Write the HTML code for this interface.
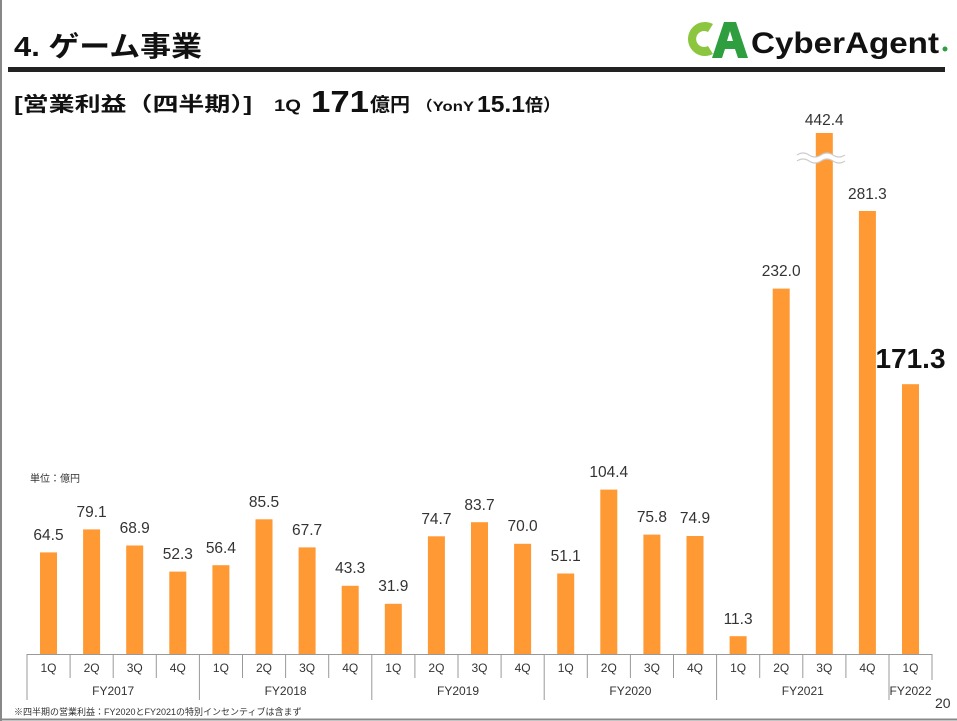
<!DOCTYPE html>
<html><head><meta charset="utf-8"><style>
body{margin:0;background:#fff;}
svg{display:block;font-family:"Liberation Sans","Noto Sans CJK JP",sans-serif;}
</style></head><body>
<svg width="957" height="721" viewBox="0 0 957 721" xmlns="http://www.w3.org/2000/svg">
<rect x="0" y="0" width="957" height="721" fill="#fff"/>
<line x1="1" y1="0" x2="1" y2="721" stroke="#888" stroke-width="2"/>
<line x1="0" y1="719.5" x2="957" y2="719.5" stroke="#888" stroke-width="2"/>
<text x="14" y="56" font-size="28" font-weight="bold" fill="#111" textLength="188" lengthAdjust="spacingAndGlyphs">4. ゲーム事業</text>
<rect x="8" y="67" width="937" height="5" fill="#222"/>
<g>
<path d="M713 24 A17 17 0 1 0 713 54 L708 46 A8 8 0 1 1 708 32 Z" fill="#8cc63f"/>
<path d="M712 58 L724 22 H736 L748 58 H738 L735 49 H725 L722 58 Z M727 41 H733 L730 31 Z" fill="#2e9e3e"/>
<text x="751" y="53" font-size="30" font-weight="bold" fill="#111" textLength="188" lengthAdjust="spacingAndGlyphs">CyberAgent</text>
<circle cx="945" cy="49" r="2.5" fill="#2e9e3e"/>
</g>
<text x="14" y="111" font-size="20" font-weight="bold" fill="#111" textLength="238" lengthAdjust="spacingAndGlyphs">[営業利益（四半期）]</text>
<text x="274" y="111" font-size="17" font-weight="bold" fill="#111" textLength="27" lengthAdjust="spacingAndGlyphs">1Q</text>
<text x="311" y="112" font-size="31" font-weight="bold" fill="#111" textLength="58" lengthAdjust="spacingAndGlyphs">171</text>
<text x="370" y="111" font-size="19" font-weight="bold" fill="#111" textLength="40" lengthAdjust="spacingAndGlyphs">億円</text>
<text x="416" y="111" font-size="14" font-weight="bold" fill="#111" textLength="58" lengthAdjust="spacingAndGlyphs">（YonY</text>
<text x="477" y="112" font-size="23" font-weight="bold" fill="#111" textLength="48" lengthAdjust="spacingAndGlyphs">15.1</text>
<text x="525" y="111" font-size="17" font-weight="bold" fill="#111" textLength="36" lengthAdjust="spacingAndGlyphs">倍）</text>
<text x="30" y="482" font-size="10" fill="#333">単位：億円</text>
<g fill="#FF9933">
<rect x="40" y="552.4" width="17" height="101.6"/>
<rect x="83.1" y="529.4" width="17" height="124.6"/>
<rect x="126.2" y="545.5" width="17" height="108.5"/>
<rect x="169.3" y="571.6" width="17" height="82.4"/>
<rect x="212.4" y="565.2" width="17" height="88.8"/>
<rect x="255.5" y="519.3" width="17" height="134.7"/>
<rect x="298.6" y="547.4" width="17" height="106.6"/>
<rect x="341.7" y="585.8" width="17" height="68.2"/>
<rect x="384.8" y="603.8" width="17" height="50.2"/>
<rect x="427.9" y="536.3" width="17" height="117.7"/>
<rect x="471" y="522.2" width="17" height="131.8"/>
<rect x="514.1" y="543.8" width="17" height="110.2"/>
<rect x="557.2" y="573.5" width="17" height="80.5"/>
<rect x="600.3" y="489.6" width="17" height="164.4"/>
<rect x="643.4" y="534.6" width="17" height="119.4"/>
<rect x="686.5" y="536" width="17" height="118"/>
<rect x="729.6" y="636.2" width="17" height="17.8"/>
<rect x="772.7" y="288.6" width="17" height="365.4"/>
<rect x="815.8" y="133" width="17" height="521"/>
<rect x="858.9" y="211" width="17" height="443"/>
<rect x="902" y="384.2" width="17" height="269.8"/>
</g>
<path d="M797 158 q6 -4 12 0 t12 0 t12 0 t12 0" fill="none" stroke="#fff" stroke-width="5"/>
<path d="M797 155 q6 -4 12 0 t12 0 t12 0 t12 0 M797 161 q6 -4 12 0 t12 0 t12 0 t12 0" fill="none" stroke="#ccc" stroke-width="1.2"/>
<g font-size="15.5" fill="#333" text-anchor="middle">
<text x="48.5" y="540">64.5</text>
<text x="91.6" y="517">79.1</text>
<text x="134.7" y="533">68.9</text>
<text x="177.8" y="559">52.3</text>
<text x="220.9" y="553">56.4</text>
<text x="264" y="507">85.5</text>
<text x="307.1" y="535">67.7</text>
<text x="350.2" y="573">43.3</text>
<text x="393.3" y="591">31.9</text>
<text x="436.4" y="524">74.7</text>
<text x="479.5" y="510">83.7</text>
<text x="522.6" y="531">70.0</text>
<text x="565.7" y="561">51.1</text>
<text x="608.8" y="477">104.4</text>
<text x="651.9" y="522">75.8</text>
<text x="695" y="523">74.9</text>
<text x="738.1" y="624">11.3</text>
<text x="781.2" y="276">232.0</text>
<text x="824.3" y="125">442.4</text>
<text x="867.4" y="199">281.3</text>
<text x="910.5" y="368" font-size="28" font-weight="bold" fill="#111">171.3</text>
</g>
<g stroke="#999" stroke-width="1">
<line x1="27" y1="654.5" x2="932" y2="654.5"/>
<line x1="27" y1="654" x2="27" y2="700"/>
<line x1="70.1" y1="654" x2="70.1" y2="678"/>
<line x1="113.2" y1="654" x2="113.2" y2="678"/>
<line x1="156.3" y1="654" x2="156.3" y2="678"/>
<line x1="199.4" y1="654" x2="199.4" y2="700"/>
<line x1="242.5" y1="654" x2="242.5" y2="678"/>
<line x1="285.6" y1="654" x2="285.6" y2="678"/>
<line x1="328.7" y1="654" x2="328.7" y2="678"/>
<line x1="371.8" y1="654" x2="371.8" y2="700"/>
<line x1="414.9" y1="654" x2="414.9" y2="678"/>
<line x1="458" y1="654" x2="458" y2="678"/>
<line x1="501.1" y1="654" x2="501.1" y2="678"/>
<line x1="544.2" y1="654" x2="544.2" y2="700"/>
<line x1="587.3" y1="654" x2="587.3" y2="678"/>
<line x1="630.4" y1="654" x2="630.4" y2="678"/>
<line x1="673.5" y1="654" x2="673.5" y2="678"/>
<line x1="716.6" y1="654" x2="716.6" y2="700"/>
<line x1="759.7" y1="654" x2="759.7" y2="678"/>
<line x1="802.8" y1="654" x2="802.8" y2="678"/>
<line x1="845.9" y1="654" x2="845.9" y2="678"/>
<line x1="889" y1="654" x2="889" y2="700"/>
<line x1="932" y1="654" x2="932" y2="680"/>
</g>
<g font-size="12" fill="#333" text-anchor="middle">
<text x="48.5" y="672">1Q</text><text x="91.6" y="672">2Q</text><text x="134.7" y="672">3Q</text><text x="177.8" y="672">4Q</text>
<text x="220.9" y="672">1Q</text><text x="264" y="672">2Q</text><text x="307.1" y="672">3Q</text><text x="350.2" y="672">4Q</text>
<text x="393.3" y="672">1Q</text><text x="436.4" y="672">2Q</text><text x="479.5" y="672">3Q</text><text x="522.6" y="672">4Q</text>
<text x="565.7" y="672">1Q</text><text x="608.8" y="672">2Q</text><text x="651.9" y="672">3Q</text><text x="695" y="672">4Q</text>
<text x="738.1" y="672">1Q</text><text x="781.2" y="672">2Q</text><text x="824.3" y="672">3Q</text><text x="867.4" y="672">4Q</text>
<text x="910.5" y="672">1Q</text>
<text x="113.2" y="695">FY2017</text>
<text x="285.6" y="695">FY2018</text>
<text x="458" y="695">FY2019</text>
<text x="630.4" y="695">FY2020</text>
<text x="802.8" y="695">FY2021</text>
<text x="910.5" y="695">FY2022</text>
</g>
<text x="935" y="708" font-size="14" fill="#333">20</text>
<text x="14" y="715" font-size="9" fill="#333">※四半期の営業利益：FY2020とFY2021の特別インセンティブは含まず</text>
</svg>
</body></html>
